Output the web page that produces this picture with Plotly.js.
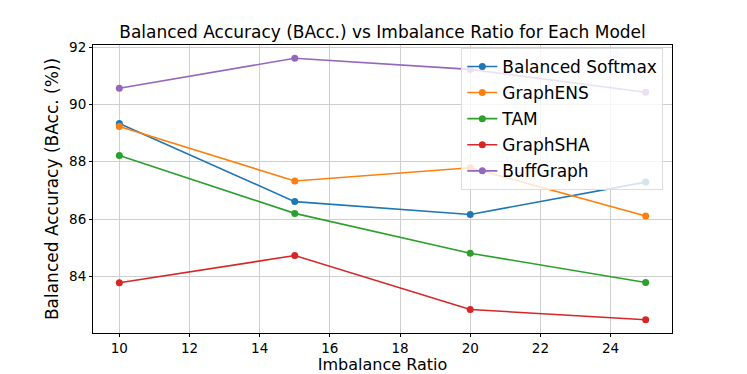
<!DOCTYPE html>
<html>
<head>
<meta charset="utf-8">
<script src="https://cdn.plot.ly/plotly-3.0.1.min.js"></script>
<style>
  html, body { margin: 0; padding: 0; background: #fff; }
  #chart { width: 747px; height: 374px; }
</style>
</head>
<body>
<div id="chart"></div>
<script>
// imbalance ratios on the x axis
const ratios = [10, 15, 20, 25];

// balanced accuracy (%) per model
const balancedSoftmax = [89.33, 86.61, 86.16, 87.29];
const graphENS = [89.23, 87.33, 87.79, 86.11];
const tam = [88.22, 86.2, 84.81, 83.79];
const graphSHA = [83.78, 84.73, 82.85, 82.49];
const buffGraph = [90.56, 91.61, 91.22, 90.42];

const models = [
  { name: "Balanced Softmax", y: balancedSoftmax, color: "#1f77b4" },
  { name: "GraphENS", y: graphENS, color: "#ff7f0e" },
  { name: "TAM", y: tam, color: "#2ca02c" },
  { name: "GraphSHA", y: graphSHA, color: "#d62728" },
  { name: "BuffGraph", y: buffGraph, color: "#9467bd" }
];

const traces = models.map(m => ({
  x: ratios,
  y: m.y,
  name: m.name,
  legendgroup: m.name,
  type: "scatter",
  mode: "lines+markers",
  line: { color: m.color, width: 1.6 },
  marker: { color: m.color, size: 7 }
}));

const axisCommon = {
  showgrid: true,
  gridcolor: "#cfcfcf",
  gridwidth: 1,
  zeroline: false,
  showline: true,
  linecolor: "#000",
  linewidth: 1,
  mirror: true,
  ticks: "outside",
  ticklen: 3,
  tickcolor: "#000",
  tickfont: { size: 13.5, color: "#000" }
};

const layout = {
  width: 747,
  height: 374,
  margin: { l: 93, r: 75, t: 45, b: 41 },
  paper_bgcolor: "#fff",
  plot_bgcolor: "#fff",
  font: { family: "DejaVu Sans, sans-serif", color: "#000" },
  title: {
    text: "Balanced Accuracy (BAcc.) vs Imbalance Ratio for Each Model",
    font: { size: 17 },
    x: 0.5,
    xref: "paper",
    y: 0.915,
    yanchor: "middle"
  },
  xaxis: {
    ...axisCommon,
    range: [9.25, 25.75],
    dtick: 2,
    tick0: 10,
    title: { text: "Imbalance Ratio", font: { size: 16 }, standoff: 7 }
  },
  yaxis: {
    ...axisCommon,
    range: [82.03, 92.07],
    dtick: 2,
    tick0: 84,
    title: { text: "Balanced Accuracy (BAcc. (%))", font: { size: 17 }, standoff: 6 }
  },
  showlegend: true,
  legend: {
    x: 0.985,
    y: 0.99,
    xanchor: "right",
    yanchor: "top",
    bgcolor: "rgba(255,255,255,0.8)",
    bordercolor: "#dddddd",
    borderwidth: 1,
    font: { size: 17 },
    tracegroupgap: 1,
    itemwidth: 30
  }
};

Plotly.newPlot("chart", traces, layout, { displayModeBar: false, staticPlot: true });
</script>
</body>
</html>
